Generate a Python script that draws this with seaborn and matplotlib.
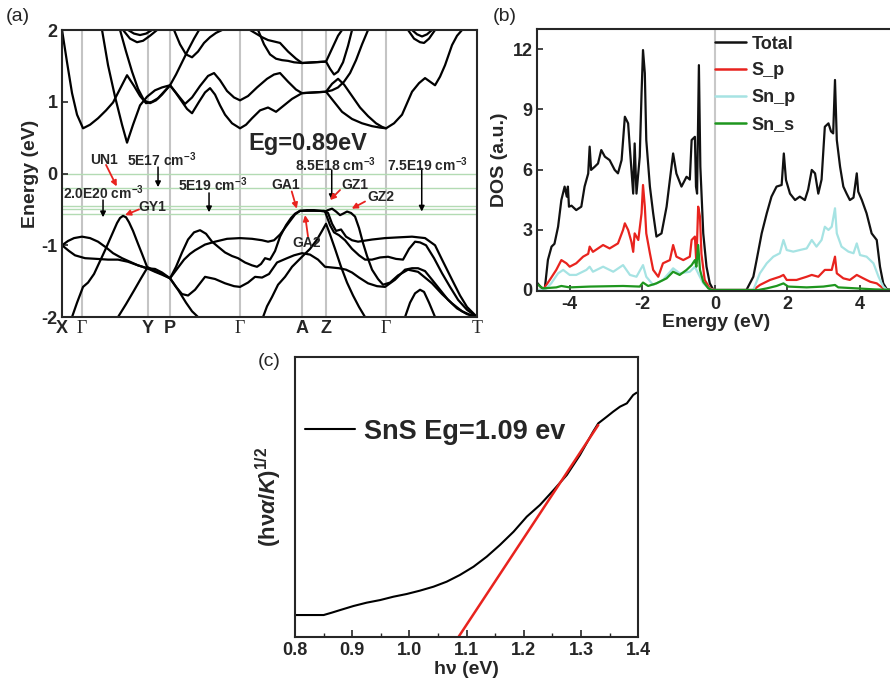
import numpy as np
import pandas as pd
import matplotlib
matplotlib.use('Agg')
import matplotlib.pyplot as plt
import seaborn as sns

# ---------------- panel (a): band structure ----------------
kpath_pos = [0, 20, 86, 108, 178, 240, 264, 324, 415]
kpath_lab = ['X', 'Γ', 'Y', 'P', 'Γ', 'A', 'Z', 'Γ', 'T']
fermi_lines = [0.0, -0.20, -0.45, -0.50, -0.56]

vb1_k = [0, 6, 12, 20, 28, 36, 44, 51, 60, 68, 76, 85, 93, 100, 108, 114, 120, 126, 132, 138,
         144, 150, 156, 163, 170, 176, 183, 190, 195, 199, 203, 208, 213, 218, 224, 229, 233, 238, 245, 252,
         258, 263, 266, 270, 274, 278, 281, 285, 289, 293, 297, 301, 305, 310, 316, 321, 328, 336, 346, 356,
         363, 370, 380, 390, 400, 408, 415]
vb1_e = [-1.0, -0.94, -0.90, -0.88, -0.90, -0.95, -1.03, -1.11, -1.18, -1.23, -1.28, -1.32, -1.37, -1.41, -1.46, -1.30, -1.10, -0.92, -0.82, -0.79,
         -0.84, -0.95, -1.02, -1.10, -1.15, -1.18, -1.24, -1.28, -1.30, -1.26, -1.18, -1.20, -1.08, -0.88, -0.72, -0.62, -0.56, -0.52, -0.51, -0.51,
         -0.52, -0.53, -0.51, -0.49, -0.53, -0.58, -0.56, -0.53, -0.55, -0.60, -0.76, -0.97, -1.15, -1.34, -1.47, -1.55, -1.52, -1.42, -1.34, -1.37,
         -1.45, -1.53, -1.68, -1.81, -1.92, -1.97, -2.0]
vb2_k = [0, 7, 13, 23, 35, 46, 56, 66, 76, 85, 93, 100, 108, 115, 122, 128, 133, 143, 153, 165,
         178, 190, 200, 206, 212, 218, 226, 233, 238, 250, 262, 266, 270, 274, 279, 284, 290, 296, 310, 323,
         336, 350, 363, 373, 380, 390, 398, 405, 415]
vb2_e = [-1.0, -1.08, -1.14, -1.18, -1.19, -1.20, -1.20, -1.23, -1.28, -1.32, -1.33, -1.38, -1.46, -1.33, -1.20, -1.12, -1.07, -0.99, -0.95, -0.91,
         -0.90, -0.91, -0.93, -0.95, -0.93, -0.85, -0.70, -0.57, -0.52, -0.52, -0.52, -0.55, -0.70, -0.80, -0.78, -0.88, -0.93, -0.95, -0.92, -0.90,
         -0.89, -0.88, -0.90, -1.0, -1.2, -1.48, -1.70, -1.86, -2.0]
vb3_k = [10, 15, 21, 26, 32, 38, 43, 49, 55, 58, 61, 64, 67, 71, 76, 80, 85, 93, 100, 108,
         114, 120, 126, 133, 143, 153, 163, 172, 178, 186, 193, 200, 207, 215, 225, 232, 240, 248, 256, 263,
         270, 277, 284, 290, 297, 306, 315, 323, 333, 343, 350, 356, 363, 370, 378, 386, 395, 405, 415]
vb3_e = [-2.0, -1.80, -1.58, -1.52, -1.40, -1.22, -1.07, -0.88, -0.69, -0.62, -0.59, -0.61, -0.68, -0.80, -0.98, -1.12, -1.30, -1.36, -1.40, -1.46,
         -1.58, -1.68, -1.70, -1.62, -1.44, -1.47, -1.53, -1.57, -1.58, -1.52, -1.44, -1.45, -1.40, -1.24, -1.18, -1.14, -1.11, -1.13, -1.20, -1.30,
         -1.31, -1.32, -1.34, -1.38, -1.45, -1.53, -1.57, -1.58, -1.48, -1.34, -1.32, -1.32, -1.36, -1.48, -1.62, -1.76, -1.88, -1.96, -2.0]
vb4_k = [263, 268, 272, 277, 283, 290, 297, 303, 310, 318, 326, 334, 341, 347, 353, 358, 364, 372, 380, 388, 396, 405, 415]
vb4_e = [-0.53, -0.72, -0.82, -0.86, -0.93, -1.05, -1.14, -1.20, -1.20, -1.17, -1.16, -1.19, -1.20, -1.05, -0.95, -0.96, -1.00, -1.18, -1.39, -1.58, -1.76, -1.90, -2.0]
vb5_k = [201, 205, 210, 216, 223, 230, 240, 248, 255, 260, 264, 268, 273, 279, 285, 291, 297, 303]
vb5_e = [-2.0, -1.85, -1.72, -1.55, -1.44, -1.30, -1.16, -1.05, -0.92, -0.80, -0.70, -0.85, -1.05, -1.30, -1.52, -1.70, -1.86, -2.0]
vb6_k = [56, 64, 72, 79, 85]
vb6_e = [-2.0, -1.82, -1.63, -1.46, -1.32]
vb7_k = [108, 116, 124, 130, 136]
vb7_e = [-1.46, -1.62, -1.80, -1.92, -2.0]
vb8_k = [343, 348, 353, 358, 362, 367, 373]
vb8_e = [-2.0, -1.80, -1.67, -1.62, -1.65, -1.80, -2.0]

cb1_k = [0, 5, 10, 15, 21, 28, 36, 44, 51, 58, 65, 72, 78, 84, 90, 96, 102, 108, 114, 120,
         125, 130, 137, 143, 148, 153, 158, 163, 170, 178, 184, 190, 198, 206, 214, 222, 230, 240, 252, 264,
         272, 280, 290, 300, 310, 318, 324, 332, 340, 345, 350, 357, 363, 368, 373, 378, 383, 390, 395, 400]
cb1_e = [2.0, 1.55, 1.12, 0.82, 0.63, 0.68, 0.77, 0.88, 0.99, 1.18, 1.37, 1.22, 1.08, 0.98, 1.00, 1.05, 1.14, 1.23, 1.12, 1.00,
         0.90, 0.84, 1.00, 1.13, 1.19, 1.10, 0.95, 0.82, 0.70, 0.63, 0.68, 0.77, 0.88, 0.92, 0.86, 0.95, 1.04, 1.12, 1.13, 1.14,
         1.00, 0.86, 0.76, 0.70, 0.66, 0.64, 0.63, 0.70, 0.82, 0.98, 1.14, 1.26, 1.33, 1.28, 1.23, 1.35, 1.51, 1.79, 1.92, 2.0]
cb2_k = [40, 46, 53, 60, 65, 71, 78, 85, 93, 100, 108, 116, 123, 130, 138, 146, 152, 158, 165, 172,
         178, 186, 195, 205, 212, 218, 226, 234, 240, 252, 264, 270, 276, 282, 290, 298, 306, 314, 320, 324]
cb2_e = [2.0, 1.51, 1.07, 0.68, 0.43, 0.68, 0.95, 1.07, 1.16, 1.20, 1.23, 1.09, 0.97, 1.06, 1.22, 1.36, 1.40, 1.30, 1.15, 1.06,
         1.02, 1.08, 1.20, 1.32, 1.38, 1.40, 1.28, 1.17, 1.12, 1.13, 1.14, 1.25, 1.32, 1.24, 1.08, 0.92, 0.80, 0.70, 0.65, 0.63]
cb3_k = [58, 64, 70, 76, 82, 88, 94, 100, 108, 114, 120, 126, 132, 137]
cb3_e = [2.0, 1.70, 1.42, 1.18, 1.02, 0.98, 1.02, 1.10, 1.23, 1.38, 1.55, 1.72, 1.88, 2.0]
cb4_k = [61, 68, 75, 81, 88, 95]
cb4_e = [2.0, 1.88, 1.83, 1.85, 1.92, 2.0]
cb4b_k = [66, 72, 78, 84, 90]
cb4b_e = [2.0, 1.95, 1.93, 1.95, 2.0]
cb5_k = [188, 194, 200, 206, 212, 218, 226, 234, 240, 252, 264, 268, 272, 276, 280]
cb5_e = [2.0, 1.95, 1.90, 1.86, 1.84, 1.82, 1.70, 1.60, 1.54, 1.55, 1.56, 1.68, 1.80, 1.92, 2.0]
cb6_k = [196, 202, 208, 214, 220, 226, 232, 240, 252, 264, 268, 272, 276, 281, 286, 290]
cb6_e = [2.0, 1.80, 1.66, 1.60, 1.58, 1.57, 1.55, 1.54, 1.55, 1.56, 1.46, 1.38, 1.42, 1.55, 1.78, 2.0]
cb7_k = [306, 300, 294, 288, 282, 276, 270, 264]
cb7_e = [2.0, 1.80, 1.58, 1.40, 1.28, 1.20, 1.16, 1.14]
cb8_k = [346, 352, 358, 362, 367, 373]
cb8_e = [2.0, 1.88, 1.83, 1.82, 1.88, 2.0]
cb8b_k = [350, 355, 360, 365, 370]
cb8b_e = [2.0, 1.94, 1.91, 1.94, 2.0]
cb9_k = [112, 118, 124, 130, 136, 142, 148, 154, 160]
cb9_e = [2.0, 1.80, 1.66, 1.62, 1.70, 1.82, 1.90, 1.96, 2.0]

# ---------------- panel (b): DOS ----------------
total_e = [-4.92, -4.80, -4.69, -4.60, -4.50, -4.42, -4.32, -4.23, -4.14, -4.08, -4.05, -4.02, -3.95, -3.82, -3.68, -3.59, -3.49, -3.45, -3.41, -3.31,
           -3.22, -3.13, -3.03, -2.90, -2.76, -2.67, -2.57, -2.48, -2.39, -2.34, -2.25, -2.21, -2.16, -2.07, -2.02, -1.98, -1.93, -1.89, -1.79, -1.70,
           -1.61, -1.47, -1.33, -1.24, -1.15, -1.06, -0.92, -0.78, -0.69, -0.64, -0.55, -0.52, -0.49, -0.44, -0.40, -0.32, -0.23, -0.14, -0.05, 0.0,
           0.87, 1.06, 1.15, 1.29, 1.43, 1.56, 1.70, 1.84, 1.90, 1.96, 2.07, 2.21, 2.34, 2.48, 2.57, 2.67, 2.76, 2.85, 2.94, 3.03,
           3.13, 3.20, 3.26, 3.31, 3.36, 3.45, 3.54, 3.63, 3.72, 3.82, 3.91, 3.95, 4.05, 4.18, 4.32, 4.46, 4.55, 4.64, 4.74, 4.99]
total_d = [0.41, 0.15, 0.0, 1.5, 2.16, 2.3, 3.15, 4.48, 5.15, 4.65, 5.15, 4.15, 4.2, 3.98, 4.15, 5.15, 5.8, 7.14, 5.98, 6.14,
           6.3, 6.97, 6.64, 6.47, 5.98, 5.81, 6.47, 8.63, 8.3, 7.0, 4.8, 7.3, 4.8, 6.64, 9.8, 11.95, 10.8, 7.47, 5.15, 3.82,
           2.66, 2.82, 4.15, 5.48, 6.8, 5.8, 5.15, 5.64, 5.5, 7.47, 7.63, 5.15, 4.8, 11.2, 6.14, 2.82, 1.16, 0.33, 0.03, 0.0,
           0.0, 0.66, 1.49, 2.82, 3.82, 4.65, 5.15, 5.23, 6.8, 5.48, 4.8, 4.48, 4.65, 4.48, 5.0, 5.98, 5.81, 4.8, 5.5, 8.13,
           8.3, 7.9, 7.8, 10.46, 7.47, 6.14, 5.15, 4.8, 4.48, 4.6, 5.81, 4.9, 4.48, 3.82, 2.82, 2.49, 1.16, 0.33, 0.03, 0.0]
sp_e = [-4.92, -4.74, -4.55, -4.37, -4.23, -4.09, -4.00, -3.82, -3.63, -3.49, -3.45, -3.36, -3.08, -2.90, -2.67, -2.53, -2.48, -2.39, -2.30, -2.25,
        -2.21, -2.11, -2.02, -1.98, -1.93, -1.89, -1.79, -1.70, -1.56, -1.43, -1.24, -1.15, -1.06, -0.87, -0.69, -0.64, -0.55, -0.51, -0.46, -0.41,
        -0.37, -0.28, -0.14, 0.0, 1.06, 1.24, 1.52, 1.79, 1.89, 1.98, 2.25, 2.53, 2.67, 2.85, 3.03, 3.22, 3.31, 3.36, 3.54, 3.72,
        3.91, 4.09, 4.28, 4.46, 4.64, 4.74, 4.99]
sp_d = [0.0, 0.0, 0.5, 1.0, 1.49, 1.33, 1.16, 1.33, 1.66, 1.8, 2.16, 1.9, 2.24, 2.07, 2.32, 2.99, 3.32, 2.99, 2.4, 1.9,
        2.82, 2.49, 3.82, 5.23, 4.15, 2.82, 1.83, 1.0, 0.66, 1.33, 1.49, 2.24, 1.66, 1.49, 1.66, 2.49, 2.66, 1.33, 4.15, 3.65,
        1.8, 0.5, 0.08, 0.0, 0.0, 0.25, 0.5, 0.66, 0.75, 0.5, 0.5, 0.66, 0.75, 0.66, 1.0, 1.0, 1.66, 0.83, 0.58, 0.5,
        0.75, 0.58, 0.41, 0.33, 0.08, 0.0, 0.0]
snp_e = [-4.92, -4.69, -4.51, -4.32, -4.18, -4.00, -3.82, -3.54, -3.45, -3.36, -3.08, -2.80, -2.53, -2.34, -2.16, -1.98, -1.89, -1.70, -1.43, -1.15,
         -0.97, -0.69, -0.55, -0.46, -0.32, -0.14, 0.0, 1.06, 1.24, 1.43, 1.61, 1.79, 1.89, 1.98, 2.16, 2.34, 2.53, 2.67, 2.80, 2.94,
         3.03, 3.13, 3.22, 3.31, 3.36, 3.49, 3.68, 3.82, 3.91, 4.00, 4.18, 4.37, 4.51, 4.64, 4.74, 4.99]
snp_d = [0.0, 0.0, 0.33, 0.83, 1.0, 0.75, 0.75, 1.0, 1.16, 0.91, 1.16, 0.91, 1.24, 0.75, 0.66, 1.24, 0.66, 0.25, 0.5, 1.08,
         0.83, 0.91, 1.16, 0.83, 0.33, 0.03, 0.0, 0.0, 0.83, 1.33, 1.66, 1.83, 2.49, 1.99, 1.91, 1.99, 2.07, 2.49, 2.16, 2.49,
         3.15, 2.99, 3.15, 4.07, 2.82, 2.16, 1.91, 1.83, 2.32, 1.74, 1.66, 1.33, 0.66, 0.17, 0.0, 0.0]
sns_e = [-4.92, -4.74, -4.37, -4.23, -4.00, -3.45, -2.53, -2.07, -1.98, -1.84, -1.61, -1.33, -1.15, -0.97, -0.78, -0.64, -0.55, -0.51, -0.46, -0.41,
         -0.32, -0.18, -0.08, 0.0, 1.20, 1.43, 1.70, 1.89, 2.02, 2.53, 2.99, 3.31, 3.40, 3.91, 4.40, 4.99]
sns_d = [0.33, 0.08, 0.13, 0.2, 0.13, 0.17, 0.2, 0.17, 0.37, 0.2, 0.33, 0.58, 0.91, 0.75, 1.0, 1.24, 1.49, 1.16, 2.24, 1.0,
         0.41, 0.08, 0.0, 0.0, 0.0, 0.08, 0.2, 0.33, 0.17, 0.13, 0.17, 0.25, 0.13, 0.08, 0.03, 0.0]
dos_names = ['Total', 'S_p', 'Sn_p', 'Sn_s']
dos_colors = ['#111111', '#e8231e', '#a6e3e3', '#1e961e']

# ---------------- panel (c): Tauc plot ----------------
hv = [0.800, 0.850, 0.864, 0.879, 0.902, 0.925, 0.949, 0.972, 0.995, 1.018, 1.042, 1.065, 1.088, 1.112, 1.135, 1.158,
      1.182, 1.205, 1.228, 1.252, 1.275, 1.298, 1.321, 1.330, 1.345, 1.356, 1.368, 1.380, 1.391, 1.397, 1.403]
tauc = [0.65, 0.65, 0.72, 0.80, 0.92, 1.02, 1.10, 1.20, 1.28, 1.38, 1.50, 1.65, 1.85, 2.10, 2.40, 2.75,
        3.15, 3.60, 3.95, 4.40, 4.85, 5.45, 6.15, 6.40, 6.60, 6.75, 6.90, 7.00, 7.25, 7.32, 7.30]
fit_hv = [1.086, 1.330]
fit_y = [0.0, 6.35]

# ---------------- style ----------------
sns.set_style('ticks')
plt.rcParams['font.family'] = ['Liberation Sans', 'DejaVu Sans']
plt.rcParams['font.weight'] = 'bold'
plt.rcParams['axes.labelweight'] = 'bold'
plt.rcParams['mathtext.fontset'] = 'custom'
plt.rcParams['mathtext.rm'] = 'Liberation Sans:bold'
plt.rcParams['mathtext.bf'] = 'Liberation Sans:bold'
plt.rcParams['mathtext.it'] = 'Liberation Sans:bold:italic'
plt.rcParams['axes.linewidth'] = 1.5

fig = plt.figure(figsize=(8.9, 6.79), dpi=100)

# ======== (a) ========
axA = fig.add_axes([0.0697, 0.5331, 0.4663, 0.4227])
for kp in kpath_pos[1:-1]:
    axA.axvline(kp, color='#c4c4c4', lw=1.5, zorder=0)
for fe in fermi_lines:
    axA.axhline(fe, color='#b3dbb3', lw=1.0, zorder=0)

band_sets = [
    ('vb1', vb1_k, vb1_e), ('vb2', vb2_k, vb2_e), ('vb3', vb3_k, vb3_e), ('vb4', vb4_k, vb4_e),
    ('vb5', vb5_k, vb5_e), ('vb6', vb6_k, vb6_e), ('vb7', vb7_k, vb7_e), ('vb8', vb8_k, vb8_e),
    ('cb1', cb1_k, cb1_e), ('cb2', cb2_k, cb2_e), ('cb3', cb3_k, cb3_e), ('cb4', cb4_k, cb4_e),
    ('cb4b', cb4b_k, cb4b_e), ('cb5', cb5_k, cb5_e), ('cb6', cb6_k, cb6_e), ('cb7', cb7_k, cb7_e),
    ('cb8', cb8_k, cb8_e), ('cb8b', cb8b_k, cb8b_e), ('cb9', cb9_k, cb9_e)]
df_bands = pd.concat([pd.DataFrame({'k': k, 'E': e, 'band': n}) for n, k, e in band_sets], ignore_index=True)
sns.lineplot(data=df_bands, x='k', y='E', units='band', estimator=None, sort=False,
             color='black', lw=1.6, ax=axA, legend=False)
axA.set_xlim(0, 415)
axA.set_ylim(-2, 2)
axA.set_yticks([-2, -1, 0, 1, 2])
axA.set_yticklabels(['-2', '-1', '0', '1', '2'], fontsize=13, fontweight='bold')
axA.set_xticks(kpath_pos)
axA.set_xticklabels(kpath_lab, fontsize=13, fontweight='bold')
for t in axA.get_xticklabels():
    if t.get_text() in ('Γ', 'T'):
        t.set_family(['Liberation Serif', 'DejaVu Serif'])
        t.set_fontweight('normal')
axA.tick_params(axis='x', length=0, pad=2)
axA.tick_params(axis='y', direction='in', length=4, width=1.2, pad=3)
axA.set_xlabel('')
axA.set_ylabel('Energy (eV)', fontsize=14, fontweight='bold', labelpad=2)

ann_kw = dict(fontsize=10, fontweight='bold', zorder=5)
axA.text(246, 0.42, 'Eg=0.89eV', ha='center', va='center', fontsize=17, fontweight='bold')
axA.text(42, 0.19, 'UN1', ha='center', va='center', **ann_kw)
axA.text(65, 0.19, '5E17 cm$^{-3}$', ha='left', va='center', **ann_kw)
axA.text(1, -0.27, '2.0E20 cm$^{-3}$', ha='left', va='center', **ann_kw)
axA.text(90, -0.46, 'GY1', ha='center', va='center', **ann_kw)
axA.text(116, -0.16, '5E19 cm$^{-3}$', ha='left', va='center', **ann_kw)
axA.text(224, -0.16, 'GA1', ha='center', va='center', **ann_kw)
axA.text(245, -0.97, 'GA2', ha='center', va='center', **ann_kw)
axA.text(233, 0.12, '8.5E18 cm$^{-3}$', ha='left', va='center', **ann_kw)
axA.text(293, -0.16, 'GZ1', ha='center', va='center', **ann_kw)
axA.text(319, -0.33, 'GZ2', ha='center', va='center', **ann_kw)
axA.text(325, 0.12, '7.5E19 cm$^{-3}$', ha='left', va='center', **ann_kw)

black_arrows = [((96, 0.09), (96, -0.19)), ((41, -0.37), (41, -0.61)), ((147, -0.27), (147, -0.54)),
                ((269.7, 0.05), (269.7, -0.37)), ((359.7, 0.07), (359.7, -0.53))]
red_arrows = [((44, 0.12), (54.7, -0.18)), ((77, -0.50), (63, -0.58)), ((229.7, -0.25), (234.7, -0.49)),
              ((246, -0.88), (243, -0.58)), ((278, -0.23), (268, -0.37)), ((303, -0.39), (289.7, -0.49))]
for s, e in black_arrows:
    axA.annotate('', xy=e, xytext=s, arrowprops=dict(arrowstyle='-|>', color='black', lw=1.1,
                                                     mutation_scale=8, shrinkA=0, shrinkB=0))
for s, e in red_arrows:
    axA.annotate('', xy=e, xytext=s, arrowprops=dict(arrowstyle='-|>', color='#e8231e', lw=1.3,
                                                     mutation_scale=8, shrinkA=0, shrinkB=0))

# ======== (b) ========
axB = fig.add_axes([0.603, 0.5707, 0.4037, 0.3866])
axB.axvline(0, color='#c8c8c8', lw=1.5, zorder=0)
dos_df = pd.concat([
    pd.DataFrame({'E': total_e, 'DOS': total_d, 'orb': 'Total'}),
    pd.DataFrame({'E': sp_e, 'DOS': sp_d, 'orb': 'S_p'}),
    pd.DataFrame({'E': snp_e, 'DOS': snp_d, 'orb': 'Sn_p'}),
    pd.DataFrame({'E': sns_e, 'DOS': sns_d, 'orb': 'Sn_s'})], ignore_index=True)
sns.lineplot(data=dos_df, x='E', y='DOS', hue='orb', hue_order=dos_names, palette=dos_colors,
             units='orb', estimator=None, sort=False, lw=1.6, ax=axB)
axB.set_xlim(-4.91, 4.99)
axB.set_ylim(-0.075, 13.0)
axB.set_xticks([-4, -2, 0, 2, 4])
axB.set_xticklabels(['-4', '-2', '0', '2', '4'], fontsize=13, fontweight='bold')
axB.set_yticks([0, 3, 6, 9, 12])
axB.set_yticklabels(['0', '3', '6', '9', '12'], fontsize=13, fontweight='bold')
axB.tick_params(direction='in', length=4, width=1.2, pad=3)
axB.set_xlabel('Energy (eV)', fontsize=14, fontweight='bold', labelpad=1)
axB.set_ylabel('DOS (a.u.)', fontsize=14, fontweight='bold', labelpad=3)
h, l = axB.get_legend_handles_labels()
leg = axB.legend(h, l, loc='upper left', bbox_to_anchor=(0.497, 0.975), frameon=False,
                 fontsize=13, handlelength=1.7, handletextpad=0.3, labelspacing=0.55,
                 borderpad=0, borderaxespad=0)
for t in leg.get_texts():
    t.set_fontweight('bold')
for line in leg.get_lines():
    line.set_linewidth(1.8)

# ======== (c) ========
axC = fig.add_axes([0.3315, 0.0623, 0.3857, 0.4124])
sns.lineplot(x=hv, y=tauc, color='black', lw=1.5, ax=axC, sort=False, estimator=None,
             label='SnS Eg=1.09 ev')
sns.lineplot(x=fit_hv, y=fit_y, color='#e8231e', lw=1.8, ax=axC, sort=False, estimator=None)
axC.set_xlim(0.8, 1.4)
axC.set_ylim(0, 8.4)
axC.set_xticks([0.8, 0.9, 1.0, 1.1, 1.2, 1.3, 1.4])
axC.set_xticklabels(['0.8', '0.9', '1.0', '1.1', '1.2', '1.3', '1.4'], fontsize=13, fontweight='bold')
axC.set_xticks([0.85, 0.95, 1.05, 1.15, 1.25, 1.35], minor=True)
axC.set_yticks([])
axC.tick_params(axis='x', which='major', direction='in', length=5, width=1.2, pad=4)
axC.tick_params(axis='x', which='minor', direction='in', length=3, width=1.0)
axC.set_xlabel('hν (eV)', fontsize=14, fontweight='bold', labelpad=1)
axC.set_ylabel('(hν$\\alpha$/$K$)$^{1/2}$', fontsize=16, fontweight='bold', labelpad=8)
legC = axC.legend(loc='center left', bbox_to_anchor=(0.03, 0.732), frameon=False, fontsize=19.5,
                  handlelength=1.85, handletextpad=0.3, borderpad=0, borderaxespad=0)
for t in legC.get_texts():
    t.set_fontweight('bold')

# panel labels
fig.text(0.006, 0.976, '(a)', fontsize=14, fontweight='normal', va='center', ha='left')
fig.text(0.554, 0.976, '(b)', fontsize=14, fontweight='normal', va='center', ha='left')
fig.text(0.290, 0.467, '(c)', fontsize=14, fontweight='normal', va='center', ha='left')

fig.savefig('out.png', dpi=100)
